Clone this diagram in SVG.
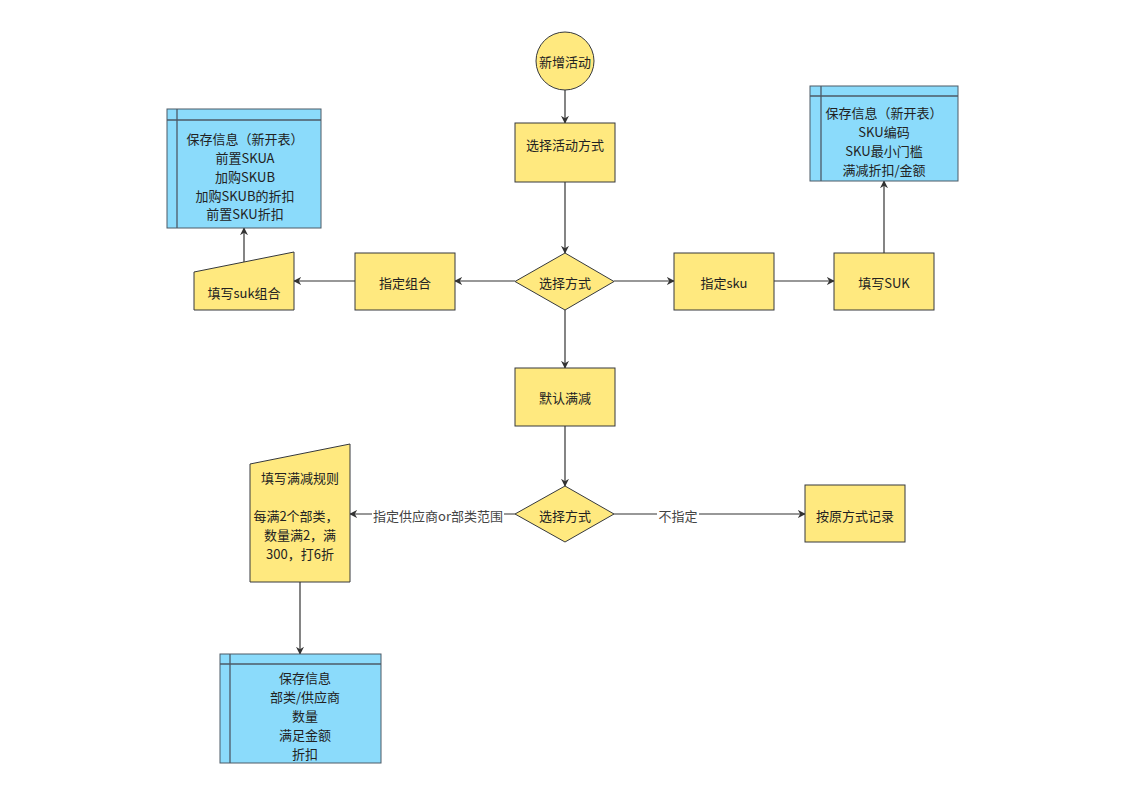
<svg xmlns="http://www.w3.org/2000/svg" width="1123" height="794" viewBox="0 0 1123 794">
<defs>
<marker id="arr" viewBox="0 0 10 10" refX="9" refY="5" markerWidth="8" markerHeight="8" markerUnits="userSpaceOnUse" orient="auto">
<path d="M0,0 L10,5 L0,10 L3,5 Z" fill="#333"/>
</marker>
<style>
.y{fill:#FFE97F;stroke:#36393d;stroke-width:1}
.b{fill:#8BDBFB;stroke:#4d5a66;stroke-width:1}
.bl{stroke:#4d5a66;stroke-width:1.3;fill:none}
text{font-family:"Microsoft YaHei","Noto Sans CJK SC","Noto Sans",sans-serif;font-size:13px;fill:#222;text-anchor:middle;dominant-baseline:central}
.e{stroke:#333;stroke-width:1.2;fill:none;marker-end:url(#arr)}
.lbl{fill:#444}
</style>
</defs>
<rect width="1123" height="794" fill="#fff"/>
<g id="connectors">
<path class="e" d="M565,90 L565,123"/>
<path class="e" d="M565,182 L565,253"/>
<path class="e" d="M614,281 L674,281"/>
<path class="e" d="M774,281 L834,281"/>
<path class="e" d="M884,253 L884,181"/>
<path class="e" d="M515,281 L455,281"/>
<path class="e" d="M355,281 L294,281"/>
<path class="e" d="M244,262 L244,228"/>
<path class="e" d="M565,310 L565,368"/>
<path class="e" d="M565,426 L565,486"/>
<path class="e" d="M515,514 L350,514"/>
<path class="e" d="M614,514 L805,514"/>
<path class="e" d="M300,582 L300,654"/>
<rect x="372" y="506" width="132" height="17" fill="#fff"/>
<text class="lbl" x="438" y="515">指定供应商or部类范围</text>
<rect x="657" y="506" width="42" height="17" fill="#fff"/>
<text class="lbl" x="678" y="515">不指定</text>
</g>
<g id="start">
<circle class="y" cx="565" cy="61" r="29"/>
<text x="565" y="61">新增活动</text>
</g>
<g id="choose-activity">
<rect class="y" x="515" y="123" width="100" height="59"/>
<text x="565" y="144">选择活动方式</text>
</g>
<g id="decision1">
<polygon class="y" points="565,253 614,281.5 565,310 515,281.5"/>
<text x="565" y="282">选择方式</text>
</g>
<g id="assign-sku">
<rect class="y" x="674" y="253" width="100" height="57"/>
<text x="724" y="282">指定sku</text>
</g>
<g id="fill-suk">
<rect class="y" x="834" y="253" width="100" height="57"/>
<text x="884" y="282">填写SUK</text>
</g>
<g id="save-sku">
<rect class="b" x="810" y="86" width="148" height="95"/>
<line class="bl" x1="810" y1="96" x2="958" y2="96"/>
<line class="bl" x1="821" y1="86" x2="821" y2="181"/>
<text x="884" y="112">保存信息（新开表）</text>
<text x="884" y="131">SKU编码</text>
<text x="884" y="150">SKU最小门槛</text>
<text x="884" y="169">满减折扣/金额</text>
</g>
<g id="assign-combo">
<rect class="y" x="355" y="253" width="100" height="57"/>
<text x="405" y="282">指定组合</text>
</g>
<g id="fill-combo">
<polygon class="y" points="194,272 294,252 294,310 194,310"/>
<text x="244" y="292">填写suk组合</text>
</g>
<g id="save-combo">
<rect class="b" x="167" y="109" width="154" height="119"/>
<line class="bl" x1="167" y1="120" x2="321" y2="120"/>
<line class="bl" x1="177" y1="109" x2="177" y2="228"/>
<text x="245" y="138">保存信息（新开表）</text>
<text x="245" y="157">前置SKUA</text>
<text x="245" y="176">加购SKUB</text>
<text x="245" y="195">加购SKUB的折扣</text>
<text x="245" y="213">前置SKU折扣</text>
</g>
<g id="default-discount">
<rect class="y" x="515" y="368" width="100" height="58"/>
<text x="565" y="397">默认满减</text>
</g>
<g id="decision2">
<polygon class="y" points="565,486 614,514 565,542 515,514"/>
<text x="565" y="515">选择方式</text>
</g>
<g id="original-record">
<rect class="y" x="805" y="485" width="100" height="57"/>
<text x="855" y="515">按原方式记录</text>
</g>
<g id="fill-rule">
<polygon class="y" points="250,464 350,444 350,582 250,582"/>
<text x="300" y="477">填写满减规则</text>
<text x="296" y="515">每满2个部类，</text>
<text x="300" y="534">数量满2，满</text>
<text x="300" y="553">300，打6折</text>
</g>
<g id="save-rule">
<rect class="b" x="220" y="654" width="161" height="109"/>
<line class="bl" x1="220" y1="664" x2="381" y2="664"/>
<line class="bl" x1="230" y1="654" x2="230" y2="763"/>
<text x="305" y="677">保存信息</text>
<text x="305" y="696">部类/供应商</text>
<text x="305" y="715">数量</text>
<text x="305" y="734">满足金额</text>
<text x="305" y="753">折扣</text>
</g>
</svg>
